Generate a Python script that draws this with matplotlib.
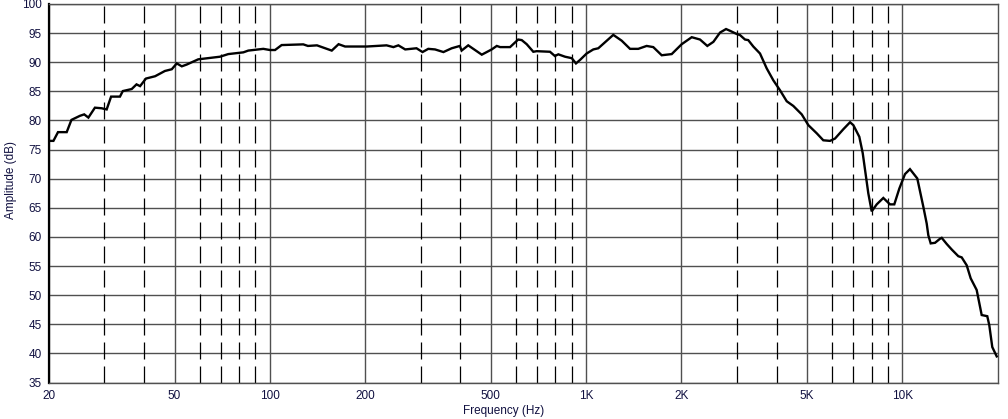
import matplotlib
matplotlib.use("Agg")
import matplotlib.pyplot as plt

plt.rcParams['font.family'] = ['Liberation Sans', 'DejaVu Sans']

# ---- data ----
freq_hz = [20, 20.7, 21.4, 22.8, 23.6, 25.1, 25.9, 26.7, 28.0, 29.4, 30.5, 31.5, 33.6, 34.3,
           36.6, 37.9, 38.9, 40.6, 43.4, 46.6, 49.0, 50.8, 52.7, 54.6, 59.4, 69.6, 73.9,
           82.5, 85.5, 95.4, 100.1, 103.9, 109, 127.6, 132, 141, 149.5, 157, 165, 173,
           202.5, 234, 246, 255, 268, 291, 304, 317, 333, 354, 376, 399, 404, 424, 468,
           503, 522, 535, 575, 610, 626, 649, 681, 698, 769, 797, 817, 858, 901, 929, 957,
           1004, 1054, 1093, 1219, 1296, 1377, 1462, 1554, 1631, 1734, 1865, 2006, 2158,
           2292, 2417, 2526, 2652, 2770, 2851, 2994, 3066, 3180, 3256, 3378, 3547, 3724,
           3908, 4102, 4309, 4520, 4806, 5043, 5361, 5623, 5904, 6124, 6358, 6506, 6832,
           6998, 7309, 7492, 7713, 7803, 7998, 8296, 8704, 9138, 9428, 9778, 10192, 10568,
           11146, 11646, 11937, 12078, 12290, 12682, 13152, 13316, 13809, 14321, 15026,
           15399, 15969, 16443, 17175, 17812, 18552, 18826, 19240, 19871]
amplitude_db = [76.5, 76.5, 78.0, 78.0, 80.1, 80.8, 81.05, 80.5, 82.2, 82.1, 81.9, 84.1, 84.1, 85.05,
                85.4, 86.2, 85.9, 87.2, 87.6, 88.5, 88.8, 89.8, 89.3, 89.6, 90.5, 90.95, 91.4,
                91.7, 92.0, 92.3, 92.1, 92.1, 92.95, 93.07, 92.8, 92.9, 92.4, 92.0, 93.1, 92.7,
                92.7, 92.9, 92.6, 92.9, 92.2, 92.4, 91.75, 92.3, 92.2, 91.75, 92.4, 92.8, 92.0, 92.9, 91.3,
                92.2, 92.8, 92.6, 92.6, 93.9, 93.8, 93.1, 91.8, 91.9, 91.8, 91.07, 91.36, 90.95, 90.7, 89.8, 90.4,
                91.5, 92.2, 92.4, 94.7, 93.7, 92.3, 92.3, 92.8, 92.6, 91.2, 91.4, 93.1, 94.3,
                93.9, 92.8, 93.5, 95.1, 95.7, 95.4, 94.85, 94.67, 93.9, 93.8, 92.7, 91.5, 88.95,
                86.9, 85.2, 83.3, 82.5, 81.05, 79.2, 77.8, 76.6, 76.5, 76.9, 77.9, 78.5, 79.7,
                79.2, 77.2, 74.4, 69.5, 67.5, 64.4, 65.6, 66.7, 65.6, 65.6, 68.3, 70.8, 71.65,
                70.05, 65.2, 62.3, 60.3, 58.9, 59.0, 59.7, 59.85, 58.8, 57.85, 56.7,
                56.5, 55.15, 52.9, 50.9, 46.6, 46.4, 44.85, 41.1, 39.5]

x_ticks = [20, 50, 100, 200, 500, 1000, 2000, 5000, 10000]
x_tick_labels = ['20', '50', '100', '200', '500', '1K', '2K', '5K', '10K']
minor_grid = [30, 40, 60, 70, 80, 90, 300, 400, 600, 700, 800, 900,
              3000, 4000, 6000, 7000, 8000, 9000]
y_ticks = list(range(35, 101, 5))

# ---- figure ----
W, H = 1008, 419
fig = plt.figure(figsize=(W / 100, H / 100), dpi=100)
left, right, top, bottom = 48.7, 997.6, 4.0, 382.6
ax = fig.add_axes([left / W, 1 - bottom / H, (right - left) / W, (bottom - top) / H])

text_color = '#101040'
grid_color = '#505050'

ax.set_xscale('log')
ax.set_xlim(20, 20000)
ax.set_ylim(35, 100)

for y in y_ticks:
    ax.axhline(y, color=grid_color, lw=1.0, zorder=1)
for x in x_ticks:
    ax.axvline(x, color=grid_color, lw=1.0, zorder=1)
dash_lw = 0.9
px = 0.72 / dash_lw  # one pixel in dash units
for x in minor_grid:
    ax.axvline(x, color='black', lw=dash_lw, linestyle=(0, (17 * px, 7 * px)), zorder=1)

ax.plot(freq_hz, amplitude_db, color='black', lw=1.7, zorder=3,
        solid_joinstyle='miter')

ax.set_xticks(x_ticks)
ax.set_xticklabels(x_tick_labels)
ax.xaxis.set_minor_locator(matplotlib.ticker.NullLocator())
ax.set_yticks(y_ticks)
ax.tick_params(axis='both', length=0, labelsize=8.5, colors=text_color)
ax.tick_params(axis='x', pad=5)
ax.tick_params(axis='y', pad=5)

for s in ['top', 'right', 'bottom']:
    ax.spines[s].set_color(grid_color)
    ax.spines[s].set_linewidth(1.0)
ax.spines['left'].set_color('black')
ax.spines['left'].set_linewidth(1.6)

fig.text(503.5 / W, 1 - 411 / H, 'Frequency (Hz)', ha='center', va='center',
         fontsize=8.5, color=text_color)
fig.text(11 / W, 1 - 180 / H, 'Amplitude (dB)', ha='center', va='center',
         rotation=90, fontsize=8.5, color=text_color)

fig.savefig('out.png', dpi=100)
